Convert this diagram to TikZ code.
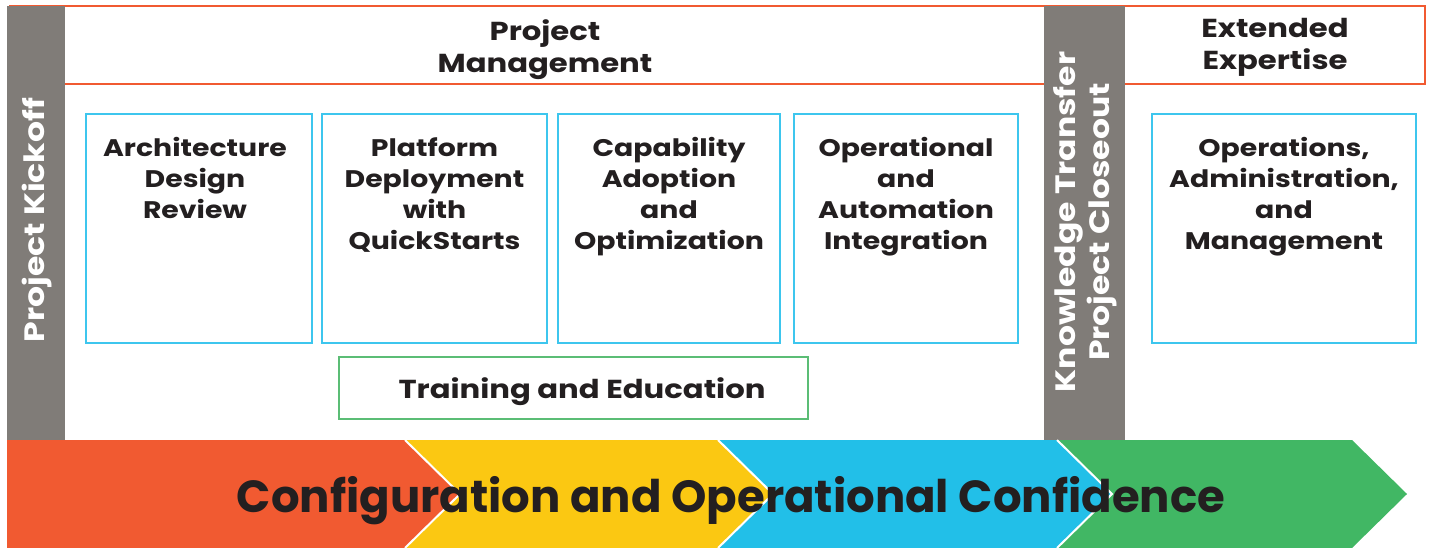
\documentclass[tikz,border=0pt]{standalone}
\usepackage{fontspec}
\setmainfont{Poppins}[FakeStretch=1.18]
\newfontfamily\bigfont{Poppins}
\definecolor{orangeC}{HTML}{F15A31}
\definecolor{yellowC}{HTML}{FBC812}
\definecolor{blueC}{HTML}{22BFE8}
\definecolor{greenC}{HTML}{41B764}
\definecolor{grayC}{HTML}{807C78}
\definecolor{boxblue}{HTML}{3DC6EE}
\definecolor{boxgreen}{HTML}{5BBD75}
\definecolor{textC}{HTML}{231F20}
\tikzset{
  sidebar/.style={fill=grayC, draw=none},
  stagebox/.style={draw=boxblue, line width=1.3pt, fill=white, inner sep=0pt},
  trainbox/.style={draw=boxgreen, line width=1.3pt, fill=white, inner sep=0pt},
  headtxt/.style={font=\bfseries\fontsize{26}{32}\selectfont, text=textC, align=center, inner sep=0pt},
  boxtxt/.style={font=\bfseries\fontsize{24}{31}\selectfont, text=textC, align=center, inner sep=0pt},
  traintxt/.style={font=\bfseries\fontsize{26}{31}\selectfont, text=textC, inner sep=0pt},
  sidetxt/.style={font=\bfseries\fontsize{28}{34}\selectfont, text=white, align=center, inner sep=0pt, rotate=90},
  bigtxt/.style={font=\bigfont\bfseries\fontsize{45}{50}\selectfont, text=textC, inner sep=0pt},
  sep/.style={draw=white, line width=2pt}
}
\begin{document}
\begin{tikzpicture}[x=1pt,y=-1pt]
\useasboundingbox (0,0) rectangle (1430,548);
% top orange frame
\draw[orangeC, line width=1.3pt] (10,6) rectangle (1425,84);
% side bars
\fill[sidebar] (7,6) rectangle (65,440);
\fill[sidebar] (1044,6) rectangle (1125,440);
\node[sidetxt] (kick) at (37,220) {Project Kickoff};
\node[sidetxt] (ktr) at (1085,222) {Knowledge Transfer\\Project Closeout};
% headings
\node[headtxt, anchor=north] (pm) at (545,19) {Project\\Management};
\node[headtxt, anchor=north] (ee) at (1275,18) {Extended\\Expertise};
% stage boxes
\node[stagebox, minimum width=226pt, minimum height=229pt] (b1) at (199,228.5) {};
\node[stagebox, minimum width=225pt, minimum height=229pt] (b2) at (434.5,228.5) {};
\node[stagebox, minimum width=222pt, minimum height=229pt] (b3) at (669,228.5) {};
\node[stagebox, minimum width=224pt, minimum height=229pt] (b4) at (906,228.5) {};
\node[stagebox, minimum width=264pt, minimum height=229pt] (b5) at (1284,228.5) {};
\node[boxtxt, anchor=north] (t1) at ([xshift=-4pt,yshift=-24pt]b1.north) {Architecture\\Design\\Review};
\node[boxtxt, anchor=north] (t2) at ([yshift=-24pt]b2.north) {Platform\\Deployment\\with\\QuickStarts};
\node[boxtxt, anchor=north] (t3) at ([yshift=-24pt]b3.north) {Capability\\Adoption\\and\\Optimization};
\node[boxtxt, anchor=north] (t4) at ([yshift=-24pt]b4.north) {Operational\\and\\Automation\\Integration};
\node[boxtxt, anchor=north] (t5) at ([yshift=-24pt]b5.north) {Operations,\\Administration,\\and\\Management};
% training
\node[trainbox, minimum width=469pt, minimum height=62pt] (tr) at (573.5,388) {};
\node[traintxt] (trt) at (582,392) {Training and Education};
% chevron band
\fill[orangeC] (7,440) -- (405,440) -- (460,494) -- (405,548) -- (7,548) -- cycle;
\fill[yellowC] (405,440) -- (718,440) -- (773,494) -- (718,548) -- (405,548) -- (460,494) -- cycle;
\fill[blueC] (718,440) -- (1057,440) -- (1112,494) -- (1057,548) -- (718,548) -- (773,494) -- cycle;
\fill[greenC] (1057,440) -- (1352,440) -- (1407,494) -- (1352,548) -- (1057,548) -- (1112,494) -- cycle;
\draw[sep] (405,440) -- (460,494) -- (405,548);
\draw[sep] (718,440) -- (773,494) -- (718,548);
\draw[sep] (1057,440) -- (1112,494) -- (1057,548);
\node[bigtxt, anchor=base] (conf) at (731,512) {Configuration and Operational Confidence};
\end{tikzpicture}
\end{document}
